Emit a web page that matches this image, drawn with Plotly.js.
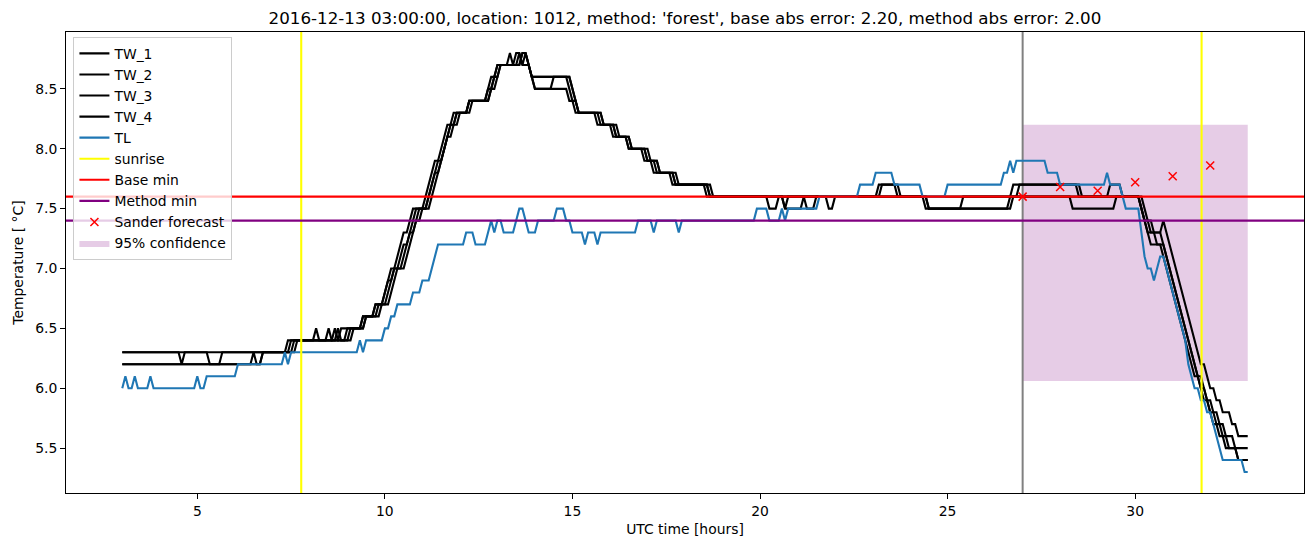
<!DOCTYPE html>
<html><head><meta charset="utf-8">
<script src="https://cdn.plot.ly/plotly-3.0.1.min.js"></script>
<style>html,body{margin:0;padding:0;background:#fff}#chart{width:1315px;height:547px}</style>
</head><body><div id="chart"></div>
<script>
// time axis: sample index k (5-minute steps) from 03:00 UTC
const START_HOUR = 3;
const SAMPLES_PER_HOUR = 12;

// [sample, value] vertices of each series (values constant between listed samples)
const TW_1 = [[0,6.3],[18,6.3],[19,6.2],[20,6.3],[52,6.3],[53,6.4],[61,6.4],[62,6.5],[63,6.4],[69,6.4],[70,6.5],
[76,6.5],[77,6.6],[80,6.6],[81,6.7],[83,6.7],[84,6.8],[85,6.9],[86,7.0],[88,7.0],[89,7.1],[90,7.2],[91,7.2],[92,7.3],[93,7.4],[94,7.5],[97,7.5],[98,7.6],[99,7.7],[100,7.8],[101,7.9],[102,7.9],[103,8.0],[104,8.1],[105,8.2],[106,8.2],[107,8.3],[110,8.3],[111,8.4],[116,8.4],[117,8.5],[118,8.5],[119,8.6],[120,8.7],[123,8.7],[124,8.8],[125,8.7],[127,8.7],[128,8.8],[129,8.8],[130,8.7],[131,8.6],
[142,8.6],[143,8.5],[144,8.4],[145,8.4],[146,8.3],[152,8.3],[153,8.2],[157,8.2],[158,8.1],[161,8.1],[162,8.0],[167,8.0],[168,7.9],[170,7.9],[171,7.8],[176,7.8],[177,7.7],[187,7.7],[188,7.6],
[206,7.6],[207,7.5],[209,7.5],[210,7.6],[241,7.6],[242,7.7],[247,7.7],[248,7.6],[256,7.6],[257,7.5],[268,7.5],[269,7.6],[286,7.6],[287,7.7],[305,7.7],[306,7.6],
[325,7.6],[326,7.5],[327,7.4],[329,7.4],[330,7.3],[332,7.3],[333,7.4],[334,7.3],[335,7.2],[336,7.1],[337,7.0],[338,6.9],[339,6.8],[340,6.7],[341,6.6],[342,6.5],[343,6.4],[344,6.3],[345,6.2],[346,6.2],[347,6.1],[348,6.0],[349,6.0],[350,5.9],[351,5.9],[352,5.8],[354,5.8],[355,5.7],[356,5.7],[357,5.6],[360,5.6]];

const TW_2 = [[0,6.3],[27,6.3],[28,6.2],[31,6.2],[32,6.3],[53,6.3],[54,6.4],[65,6.4],[66,6.5],[67,6.4],[71,6.4],[72,6.5],
[77,6.5],[78,6.6],[81,6.6],[82,6.7],[84,6.7],[85,6.8],[86,6.9],[87,7.0],[89,7.0],[90,7.1],[91,7.2],[92,7.3],[93,7.3],[94,7.4],[95,7.5],[97,7.5],[98,7.6],[99,7.7],[100,7.8],[101,7.8],[102,7.9],[103,8.0],[104,8.1],[105,8.2],[107,8.2],[108,8.3],[111,8.3],[112,8.4],[117,8.4],[118,8.5],[119,8.6],[120,8.6],[121,8.7],[126,8.7],[127,8.8],[128,8.7],[129,8.8],[130,8.7],[131,8.6],[132,8.5],[137,8.5],[138,8.6],
[143,8.6],[144,8.5],[145,8.4],[146,8.3],[153,8.3],[154,8.2],[158,8.2],[159,8.1],[162,8.1],[163,8.0],[168,8.0],[169,7.9],[171,7.9],[172,7.8],[177,7.8],[178,7.7],[188,7.7],[189,7.6],
[211,7.6],[212,7.5],[213,7.6],[225,7.6],[226,7.5],[227,7.5],[228,7.6],[242,7.6],[243,7.7],[248,7.7],[249,7.6],[257,7.6],[258,7.5],[283,7.5],[284,7.6],[285,7.7],[306,7.7],[307,7.6],
[325,7.6],[326,7.5],[327,7.4],[328,7.3],[329,7.2],[333,7.2],[334,7.1],[335,7.0],[336,6.9],[337,6.8],[338,6.7],[339,6.6],[340,6.5],[341,6.4],[342,6.3],[343,6.2],[344,6.1],[345,6.1],[346,6.0],[347,5.9],[348,5.9],[349,5.8],[350,5.8],[351,5.7],[352,5.7],[353,5.6],[355,5.6],[356,5.5],[360,5.5]];

const TW_3 = [[0,6.2],[41,6.2],[42,6.3],[43,6.2],[44,6.2],[45,6.3],[54,6.3],[55,6.4],[67,6.4],[68,6.5],[69,6.4],[72,6.4],[73,6.5],
[76,6.5],[77,6.6],[80,6.6],[81,6.7],[83,6.7],[84,6.8],[85,6.9],[86,6.9],[87,7.0],[88,7.1],[89,7.2],[90,7.3],[91,7.3],[92,7.4],[93,7.5],[96,7.5],[97,7.6],[98,7.7],[99,7.8],[100,7.9],[101,7.9],[102,8.0],[103,8.1],[104,8.2],[105,8.2],[106,8.3],[110,8.3],[111,8.4],[116,8.4],[117,8.5],[118,8.6],[119,8.6],[120,8.7],[125,8.7],[126,8.8],[127,8.8],[128,8.7],[130,8.7],[131,8.6],[132,8.5],
[142,8.5],[143,8.4],[144,8.4],[145,8.3],[151,8.3],[152,8.2],[156,8.2],[157,8.1],[161,8.1],[162,8.0],[166,8.0],[167,7.9],[169,7.9],[170,7.8],[175,7.8],[176,7.7],[186,7.7],[187,7.6],
[211,7.6],[212,7.5],[217,7.5],[218,7.6],[219,7.5],[221,7.5],[222,7.6],[303,7.6],[304,7.5],[317,7.5],[318,7.6],
[326,7.6],[327,7.5],[328,7.4],[329,7.3],[332,7.3],[333,7.2],[334,7.1],[335,7.0],[336,6.9],[337,6.8],[338,6.7],[339,6.6],[340,6.5],[341,6.4],[342,6.3],[343,6.2],[344,6.1],[345,6.0],[346,6.0],[347,5.9],[348,5.8],[349,5.8],[350,5.7],[351,5.7],[352,5.6],[353,5.6],[354,5.5],[356,5.5],[357,5.4],[360,5.4]];

const TW_4 = [[0,6.2],[44,6.2],[45,6.3],[55,6.3],[56,6.4],[68,6.4],[69,6.5],[70,6.4],[73,6.4],[74,6.5],
[77,6.5],[78,6.6],[82,6.6],[83,6.7],[85,6.7],[86,6.8],[87,6.9],[88,7.0],[90,7.0],[91,7.1],[92,7.2],[93,7.3],[94,7.4],[95,7.4],[96,7.5],[98,7.5],[99,7.6],[100,7.7],[101,7.8],[102,7.9],[103,8.0],[104,8.1],[105,8.1],[106,8.2],[107,8.3],[110,8.3],[111,8.4],[117,8.4],[118,8.5],[119,8.5],[120,8.6],[121,8.7],[127,8.7],[128,8.8],[129,8.8],[130,8.7],[131,8.6],
[143,8.6],[144,8.5],[145,8.4],[146,8.3],[153,8.3],[154,8.2],[157,8.2],[158,8.1],[162,8.1],[163,8.0],[167,8.0],[168,7.9],[171,7.9],[172,7.8],[176,7.8],[177,7.7],[187,7.7],[188,7.6],
[257,7.6],[258,7.5],[284,7.5],[285,7.6],[315,7.6],[316,7.7],[319,7.7],[320,7.6],
[325,7.6],[326,7.5],[327,7.4],[328,7.3],[330,7.3],[331,7.2],[332,7.2],[333,7.1],[334,7.0],[335,6.9],[336,6.8],[337,6.7],[338,6.6],[339,6.5],[340,6.4],[341,6.3],[342,6.2],[343,6.1],[344,6.1],[345,6.0],[346,5.9],[347,5.9],[348,5.8],[349,5.7],[350,5.7],[351,5.6],[352,5.6],[353,5.5],[356,5.5],[357,5.4],[360,5.4]];

const TL = [[0,6.0],[1,6.1],[2,6.0],[3,6.0],[4,6.1],[5,6.0],[8,6.0],[9,6.1],[10,6.0],[23,6.0],[24,6.1],[25,6.0],[26,6.0],[27,6.1],[36,6.1],[37,6.2],
[51,6.2],[52,6.3],[53,6.2],[54,6.3],[75,6.3],[76,6.4],[77,6.3],[78,6.4],[83,6.4],[84,6.5],[85,6.5],[86,6.6],[87,6.6],[88,6.7],
[92,6.7],[93,6.8],[95,6.8],[96,6.9],[98,6.9],[99,7.0],[100,7.1],[101,7.2],[109,7.2],[110,7.3],[112,7.3],[113,7.2],[116,7.2],[117,7.3],[118,7.4],[119,7.3],[120,7.4],[121,7.4],[122,7.3],[125,7.3],[126,7.4],[127,7.5],[128,7.5],[129,7.4],[130,7.3],[132,7.3],[133,7.4],[138,7.4],[139,7.5],[141,7.5],[142,7.4],[143,7.4],[144,7.3],
[147,7.3],[148,7.2],[149,7.3],[151,7.3],[152,7.2],[153,7.3],[164,7.3],[165,7.4],[169,7.4],[170,7.3],[171,7.4],[177,7.4],[178,7.3],[179,7.4],
[202,7.4],[203,7.5],[206,7.5],[207,7.4],[210,7.4],[211,7.5],[212,7.4],[213,7.5],[222,7.5],[223,7.6],[235,7.6],[236,7.7],[240,7.7],[241,7.8],[246,7.8],[247,7.7],[255,7.7],[256,7.6],[263,7.6],[264,7.7],
[281,7.7],[282,7.8],[283,7.8],[284,7.9],[285,7.8],[286,7.9],[295,7.9],[296,7.8],[299,7.8],[300,7.7],[314,7.7],[315,7.8],[316,7.7],[319,7.7],[320,7.6],[321,7.5],
[325,7.5],[326,7.3],[327,7.1],[328,7.0],[329,7.0],[330,6.9],[331,7.0],[332,7.1],[333,7.1],[334,7.0],[335,6.9],[336,6.8],[337,6.7],[338,6.6],[339,6.5],[340,6.4],[341,6.2],[342,6.1],[343,6.0],[344,6.0],[345,5.9],[346,5.9],[347,5.8],[348,5.8],[349,5.7],[350,5.6],[351,5.5],[352,5.4],[358,5.4],[359,5.3],[360,5.3]];

const SUNRISE = [7.77, 31.77];
const FORECAST_START = 27.0;
const BASE_MIN = 7.6;
const METHOD_MIN = 7.4;
const FORECAST_HOURS = [27, 28, 29, 30, 31, 32];
const FORECAST_VALUES = [7.60, 7.68, 7.65, 7.72, 7.77, 7.86];
const CONF_HOURS = [27, 33];
const CONF_BOUNDS = [6.06, 8.2];

const X_RANGE = [1.5, 34.5];
const Y_RANGE = [5.125, 8.975];
const TITLE = "2016-12-13 03:00:00, location: 1012, method: 'forest', base abs error: 2.20, method abs error: 2.00";

const hx = pts => pts.map(p => START_HOUR + p[0] / SAMPLES_PER_HOUR);
const vy = pts => pts.map(p => p[1]);

const FONT = 'DejaVu Sans, sans-serif';
const traces = [];
traces.push({
  x: [CONF_HOURS[0], CONF_HOURS[1], CONF_HOURS[1], CONF_HOURS[0], CONF_HOURS[0]],
  y: [CONF_BOUNDS[0], CONF_BOUNDS[0], CONF_BOUNDS[1], CONF_BOUNDS[1], CONF_BOUNDS[0]],
  type: 'scatter', mode: 'lines', fill: 'toself', fillcolor: 'rgba(128,0,128,0.2)',
  line: {width: 0, color: 'rgba(128,0,128,0.2)'}, name: '95% confidence', legendrank: 10, hoverinfo: 'skip'
});
traces.push({x: [FORECAST_START, FORECAST_START], y: Y_RANGE, type: 'scatter', mode: 'lines',
  line: {color: 'gray', width: 2}, showlegend: false});
[['TW_1', TW_1], ['TW_2', TW_2], ['TW_3', TW_3], ['TW_4', TW_4]].forEach((s, i) => {
  traces.push({x: hx(s[1]), y: vy(s[1]), type: 'scatter', mode: 'lines', name: s[0],
    line: {color: 'black', width: 2.1}, legendrank: i + 1});
});
traces.push({x: hx(TL), y: vy(TL), type: 'scatter', mode: 'lines', name: 'TL',
  line: {color: '#1f77b4', width: 2.1}, legendrank: 5});
traces.push({x: [SUNRISE[0], SUNRISE[0], null, SUNRISE[1], SUNRISE[1]],
  y: [Y_RANGE[0], Y_RANGE[1], null, Y_RANGE[0], Y_RANGE[1]], type: 'scatter', mode: 'lines',
  name: 'sunrise', line: {color: 'yellow', width: 2.1}, legendrank: 6});
traces.push({x: X_RANGE, y: [BASE_MIN, BASE_MIN], type: 'scatter', mode: 'lines', name: 'Base min',
  line: {color: 'red', width: 2.1}, legendrank: 7});
traces.push({x: X_RANGE, y: [METHOD_MIN, METHOD_MIN], type: 'scatter', mode: 'lines', name: 'Method min',
  line: {color: 'purple', width: 2.1}, legendrank: 8});
traces.push({x: FORECAST_HOURS, y: FORECAST_VALUES, type: 'scatter', mode: 'markers', name: 'Sander forecast',
  marker: {symbol: 'x-thin', size: 8, color: 'red', line: {color: 'red', width: 1.5}}, legendrank: 9});

const axisCommon = {
  showgrid: false, zeroline: false, showline: true, mirror: true, linecolor: 'black', linewidth: 1,
  ticks: 'outside', ticklen: 5, tickwidth: 1, tickcolor: 'black',
  tickfont: {family: FONT, size: 13.9, color: 'black'}
};
const layout = {
  width: 1315, height: 547,
  margin: {l: 66, r: 11, t: 32, b: 54, pad: 0},
  paper_bgcolor: 'white', plot_bgcolor: 'white',
  font: {family: FONT, color: 'black'},
  title: {text: TITLE, font: {family: FONT, size: 16.7, color: 'black'}, x: 0.5209, xanchor: 'center', y: 0.967, yanchor: 'middle'},
  xaxis: Object.assign({}, axisCommon, {range: X_RANGE, tickvals: [5, 10, 15, 20, 25, 30],
    title: {text: 'UTC time [hours]', font: {family: FONT, size: 13.9, color: 'black'}, standoff: 6}}),
  yaxis: Object.assign({}, axisCommon, {range: Y_RANGE, tickvals: [5.5, 6.0, 6.5, 7.0, 7.5, 8.0, 8.5], tickformat: '.1f',
    title: {text: 'Temperature [ °C]', font: {family: FONT, size: 13.9, color: 'black'}, standoff: 8}}),
  showlegend: true,
  legend: {x: 0.006, y: 0.9895, xanchor: 'left', yanchor: 'top', bgcolor: 'rgba(255,255,255,0.8)',
    bordercolor: '#cccccc', borderwidth: 1, font: {family: FONT, size: 13.9, color: 'black'}, traceorder: 'normal'}
};
Plotly.newPlot('chart', traces, layout, {displayModeBar: false, staticPlot: true});
</script></body></html>
